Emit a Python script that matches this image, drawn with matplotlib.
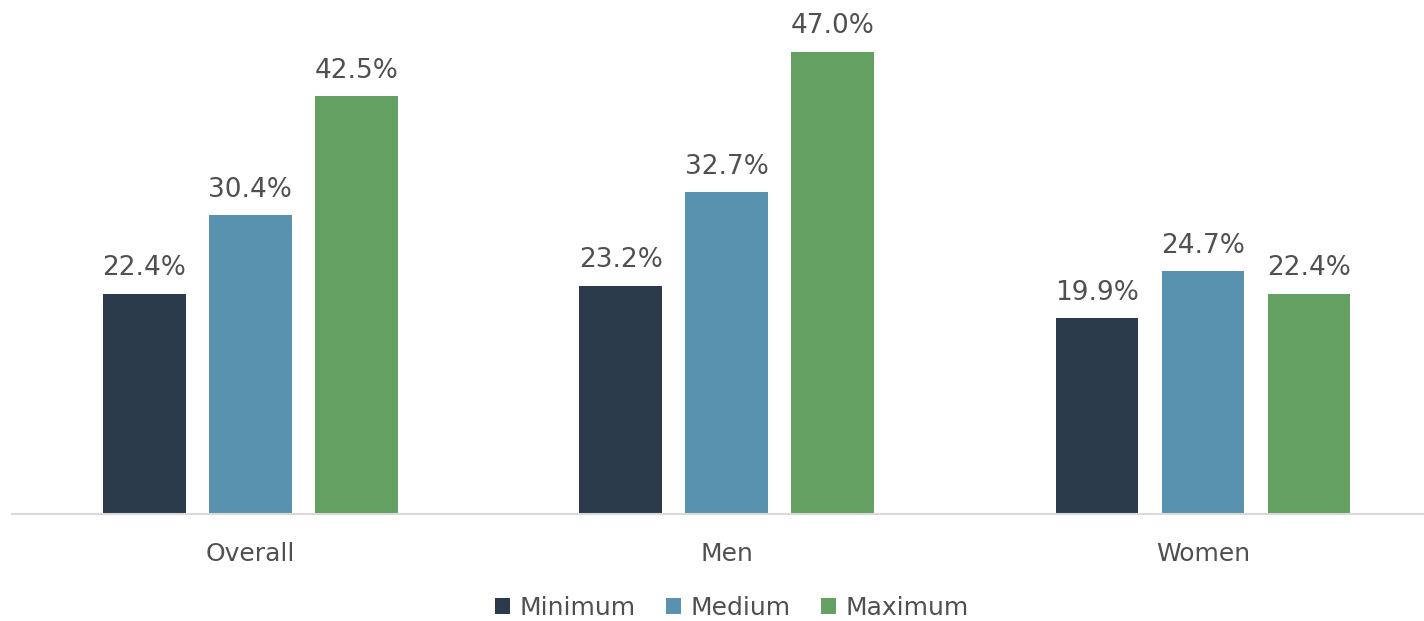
import matplotlib
matplotlib.use("Agg")
import matplotlib.pyplot as plt
import numpy as np

categories = ["Overall", "Men", "Women"]
series_names = ["Minimum", "Medium", "Maximum"]
minimum = [22.4, 23.2, 19.9]
medium = [30.4, 32.7, 24.7]
maximum = [42.5, 47.0, 22.4]
colors = ["#2B3A4A", "#5892AE", "#64A062"]

plt.rcParams['font.family'] = ['DejaVu Sans']
W, H = 1424, 621
fig = plt.figure(figsize=(W / 100, H / 100), dpi=100)
ax = fig.add_axes([12 / W, (H - 514) / H, (W - 12) / W, 514 / H])

x = np.arange(len(categories))
bw = 0.174
step = 0.2225
text_col = "#505050"
for i, (vals, name, c) in enumerate(zip([minimum, medium, maximum], series_names, colors)):
    bars = ax.bar(x + (i - 1) * step, vals, width=bw, color=c, label=name)
    for b, v in zip(bars, vals):
        ax.annotate(f"{v:.1f}%", (b.get_x() + b.get_width() / 2, v),
                    xytext=(0, 9), textcoords="offset points",
                    ha="center", va="bottom", fontsize=19, color=text_col)

ax.set_xlim(-0.5, (W - 250) / 476.5)
ax.set_ylim(0, 514 / 9.835)
ax.set_xticks(x)
ax.set_xticklabels(categories, fontsize=18, color=text_col)
ax.tick_params(axis="x", length=0, pad=20)
ax.set_yticks([])
for s in ["top", "right", "left"]:
    ax.spines[s].set_visible(False)
ax.spines["bottom"].set_color("#D9D9D9")
ax.spines["bottom"].set_linewidth(1.5)

leg = fig.legend(loc="center", bbox_to_anchor=(0.514, 1 - 608 / H), ncol=3, frameon=False,
                 fontsize=18, handlelength=0.6, handleheight=0.6, handletextpad=0.4,
                 columnspacing=1.2)
for t in leg.get_texts():
    t.set_color(text_col)

fig.savefig("out.png", dpi=100)
